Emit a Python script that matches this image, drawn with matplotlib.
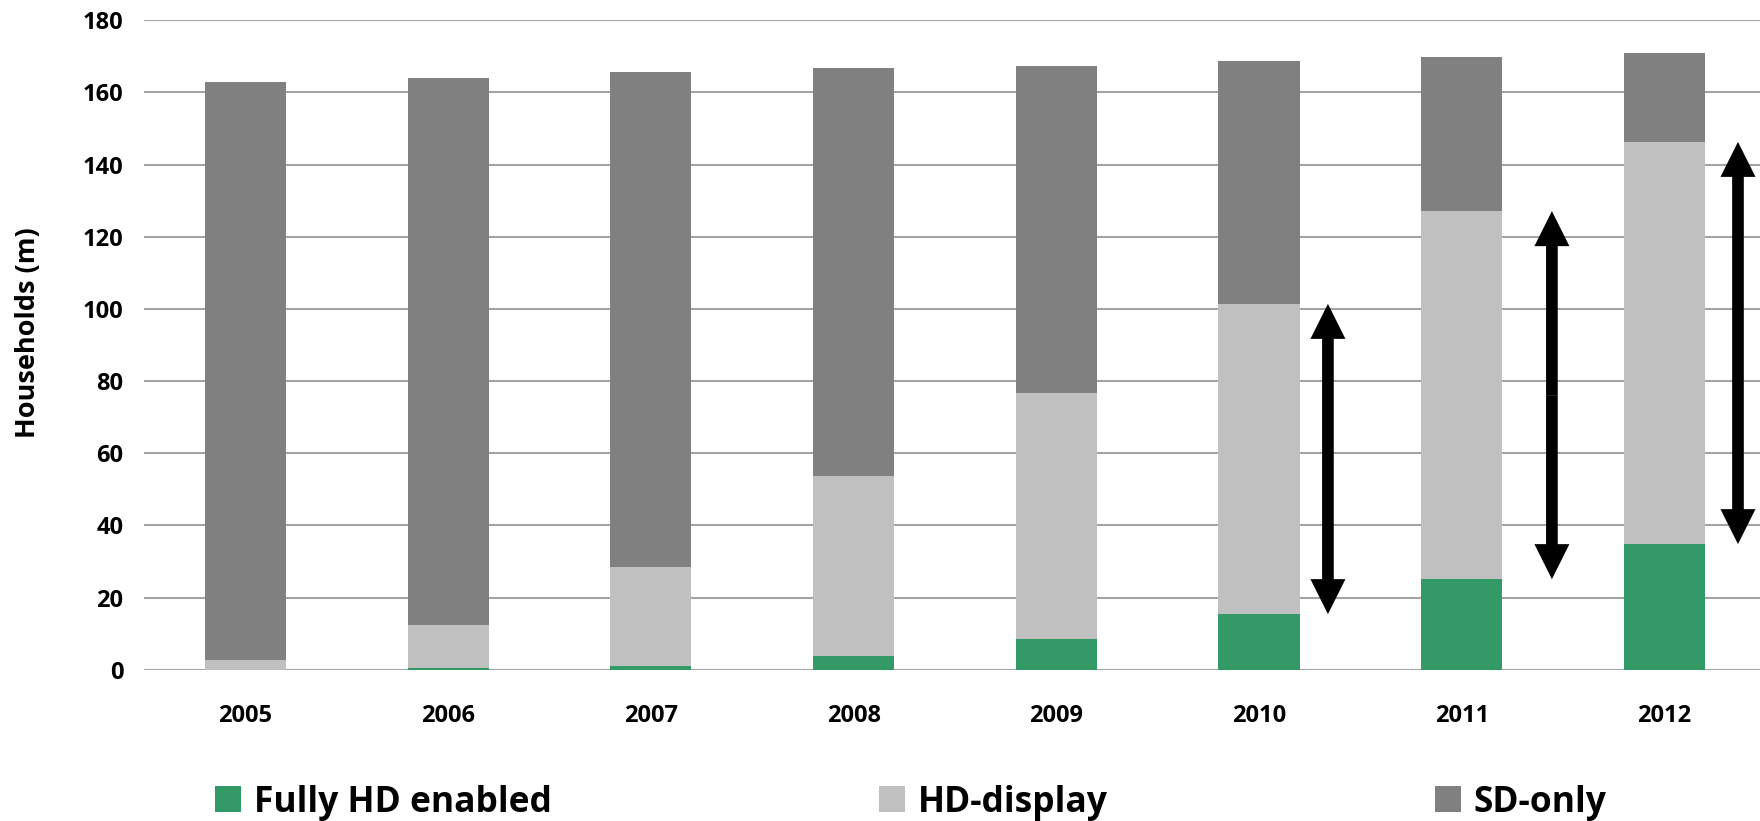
import matplotlib
matplotlib.use("Agg")
import matplotlib.pyplot as plt
import numpy as np

plt.rcParams['font.family'] = ['Open Sans', 'DejaVu Sans']
plt.rcParams['font.weight'] = 'bold'

years = ['2005', '2006', '2007', '2008', '2009', '2010', '2011', '2012']
fully_hd = [0.0, 0.5, 1.0, 3.8, 8.5, 15.4, 25.1, 34.8]
hd_display = [2.7, 11.9, 27.5, 49.9, 68.2, 86.0, 102.0, 111.5]
sd_only = [160.2, 151.6, 137.2, 113.1, 90.6, 67.3, 42.7, 24.6]
series_names = ['Fully HD enabled', 'HD-display', 'SD-only']
series_colors = ['#339966', '#c0c0c0', '#808080']
y_ticks = [0, 20, 40, 60, 80, 100, 120, 140, 160, 180]

# years that get a double-headed arrow, and its horizontal offset from the bar
arrow_years = ['2010', '2011', '2012']
arrow_offsets = [0.34, 0.445, 0.363]

W, H = 1760, 821
fig = plt.figure(figsize=(W / 100, H / 100), dpi=100)
x0_px, zero_px, top_px = 144.2, 669.7, 20.3
ax = fig.add_axes([x0_px / W, (H - zero_px) / H, 1 - x0_px / W, (zero_px - top_px) / H])

x = np.arange(len(years))
bottom = np.zeros(len(years))
handles = []
for vals, name, col in zip([fully_hd, hd_display, sd_only], series_names, series_colors):
    b = ax.bar(x, vals, width=0.4, bottom=bottom, color=col, label=name, zorder=2)
    handles.append(b)
    bottom = bottom + np.array(vals)

ax.set_xlim(-0.5, (W - 245.5) / 202.7)
ax.set_ylim(0, 180)
ax.set_yticks(y_ticks)
ax.set_yticklabels([str(v) for v in y_ticks])
ax.set_xticks(x)
ax.set_xticklabels(years)
ax.tick_params(axis='both', length=0, labelsize=17)
ax.tick_params(axis='x', pad=25)
ax.tick_params(axis='y', pad=15)
for lab in ax.get_xticklabels() + ax.get_yticklabels():
    lab.set_fontweight('bold')
ax.grid(axis='y', color='#a3a3a3', linewidth=1.5, zorder=0)
ax.set_axisbelow(True)
for s in ax.spines.values():
    s.set_visible(False)

fig.text(28 / W, (H - 333) / H, 'Households (m)', rotation=90, ha='center', va='center',
         fontsize=19.5, fontweight='bold')

# double-headed arrows spanning the HD-display segment
green = np.array(fully_hd)
hd_top = green + np.array(hd_display)
for yr, off in zip(arrow_years, arrow_offsets):
    i = years.index(yr)
    xa = i + off
    mid = (green[i] + hd_top[i]) / 2
    for end in (green[i], hd_top[i]):
        ax.annotate('', xy=(xa, end), xytext=(xa, mid),
                    arrowprops=dict(arrowstyle='simple,head_length=25.2,head_width=25.2,tail_width=8.4',
                                    mutation_scale=1, color='black', lw=0,
                                    shrinkA=0, shrinkB=0),
                    zorder=3)

fig.legend(handles=handles, labels=series_names, loc='center left',
           bbox_to_anchor=(215 / W, 18.5 / H), bbox_transform=fig.transFigure,
           ncol=3, frameon=False, borderpad=0, borderaxespad=0,
           handlelength=0.73, handleheight=0.73, handletextpad=0.36,
           columnspacing=9.25, prop={'size': 25.5, 'weight': 'bold'})

fig.savefig('out.png', dpi=100)
